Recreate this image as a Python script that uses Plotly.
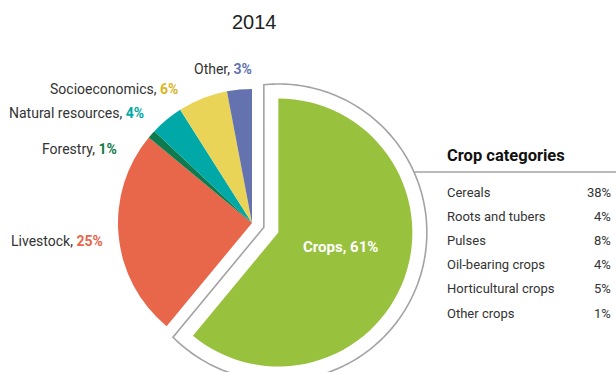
import numpy as np
import plotly.graph_objects as go

W, H = 616, 372

# ---------------- data ----------------
title_text = "2014"
sectors = ["Crops", "Livestock", "Forestry", "Natural resources", "Socioeconomics", "Other"]
shares = [61, 25, 1, 4, 6, 3]
sector_colors = ["#98c13d", "#e8664a", "#0e7a4d", "#00a9a7", "#ead457", "#6473b0"]
pct_colors = ["#ffffff", "#e8664a", "#137a45", "#00a9a7", "#d8b522", "#6473b0"]

crop_categories = ["Cereals", "Roots and tubers", "Pulses", "Oil-bearing crops",
                   "Horticultural crops", "Other crops"]
crop_shares = [38, 4, 8, 4, 5, 1]
table_title = "Crop categories"

# ---------------- layout helpers ----------------
NARROW = "Roboto, Liberation Sans Narrow, sans-serif"
TXT = "#333333"


def px(x):
    return x / W


def py(y):
    return 1 - y / H


cx0, cy0, r = 252.0, 223.0, 134.0   # pie centre (screen px) and radius
pull_px = 28.0
gap = 14.5                          # outline offset

total = float(sum(shares))
frac = shares[0] / total
bis = np.radians(90 - 360 * frac / 2)
half = np.radians(360 * frac / 2)
pcx = cx0 + pull_px * np.cos(bis)
pcy = cy0 - pull_px * np.sin(bis)


def domain(cx, cy):
    return dict(x=[px(cx - r), px(cx + r)], y=[py(cy + r), py(cy - r)])


fig = go.Figure()

# main pie (crops slice hidden)
fig.add_trace(go.Pie(
    values=shares, labels=sectors, sort=False, direction="clockwise", rotation=0,
    marker=dict(colors=["rgba(0,0,0,0)"] + sector_colors[1:], line=dict(width=0)),
    textinfo="none", hoverinfo="label+percent", showlegend=False,
    domain=domain(cx0, cy0)))

# pulled crops slice
fig.add_trace(go.Pie(
    values=[shares[0], total - shares[0]], labels=[sectors[0], "rest"], sort=False,
    direction="clockwise", rotation=0,
    marker=dict(colors=[sector_colors[0], "rgba(0,0,0,0)"], line=dict(width=0)),
    textinfo="none", hoverinfo="skip", showlegend=False,
    domain=domain(pcx, pcy)))

# ---------------- outline around crops slice ----------------
P = np.array([pcx, H - pcy])
R = r + gap
u_bis = np.array([np.cos(bis), np.sin(bis)])
A = P - (gap / np.sin(half)) * u_bis
t1 = np.radians(90)
t2 = np.radians(90 - 360 * frac)


def ray_hit(theta):
    u = np.array([np.cos(theta), np.sin(theta)])
    w = A - P
    b = w @ u
    t = -b + np.sqrt(b * b - w @ w + R * R)
    return A + t * u


p1 = ray_hit(t1)
p2 = ray_hit(t2)
a1 = np.arctan2(p1[1] - P[1], p1[0] - P[0])
a2 = np.arctan2(p2[1] - P[1], p2[0] - P[0])
if a2 > a1:
    a2 -= 2 * np.pi
angs = np.linspace(a1, a2, 200)
pts = [A, p1] + [P + R * np.array([np.cos(a), np.sin(a)]) for a in angs] + [p2]
path = "M " + " L ".join(f"{q[0] / W:.5f},{q[1] / H:.5f}" for q in pts) + " Z"

shapes = [dict(type="path", xref="paper", yref="paper", path=path,
               line=dict(color="#a3a3a3", width=1.6), fillcolor="rgba(0,0,0,0)")]

yl = 172.0
xl = P[0] + np.sqrt(R * R - ((H - yl) - P[1]) ** 2)
shapes.append(dict(type="line", xref="paper", yref="paper",
                   x0=px(xl), x1=1.0, y0=py(yl), y1=py(yl),
                   line=dict(color="#a3a3a3", width=1.6)))

# ---------------- annotations ----------------
ann = []
ann.append(dict(text=title_text, x=px(254), y=py(22), xref="paper", yref="paper",
                showarrow=False, xanchor="center", yanchor="middle",
                font=dict(family="Liberation Sans, Arial, sans-serif", size=20, color="#222")))

label_pos = {  # right end x, centre y (screen px)
    "Livestock": (105, 241),
    "Forestry": (119, 149),
    "Natural resources": (146, 113),
    "Socioeconomics": (180, 89),
    "Other": (254, 69),
}
for name, val, col in zip(sectors[1:], shares[1:], pct_colors[1:]):
    x, y = label_pos[name]
    ann.append(dict(text=f"{name}, <b><span style='color:{col}'>{val}%</span></b>",
                    x=px(x), y=py(y), xref="paper", yref="paper", showarrow=False,
                    xanchor="right", yanchor="middle",
                    font=dict(family=NARROW, size=14, color=TXT)))

ann.append(dict(text=f"<b>{sectors[0]}, {shares[0]}%</b>", x=px(340), y=py(247),
                xref="paper", yref="paper", showarrow=False,
                xanchor="center", yanchor="middle",
                font=dict(family=NARROW, size=15, color="#ffffff")))

ann.append(dict(text=f"<b>{table_title}</b>", x=px(445), y=py(155), xref="paper",
                yref="paper", showarrow=False, xanchor="left", yanchor="middle",
                font=dict(family=NARROW, size=16.5, color="#111")))

for i, (cat, v) in enumerate(zip(crop_categories, crop_shares)):
    y = 192 + i * 24.2
    ann.append(dict(text=cat, x=px(445), y=py(y), xref="paper", yref="paper",
                    showarrow=False, xanchor="left", yanchor="middle",
                    font=dict(family=NARROW, size=13, color=TXT)))
    ann.append(dict(text=f"{v}%", x=px(613), y=py(y), xref="paper", yref="paper",
                    showarrow=False, xanchor="right", yanchor="middle",
                    font=dict(family=NARROW, size=13, color=TXT)))

fig.update_layout(width=W, height=H, margin=dict(l=0, r=0, t=0, b=0),
                  paper_bgcolor="white", plot_bgcolor="white",
                  shapes=shapes, annotations=ann, showlegend=False)

fig.write_html("out.html")
